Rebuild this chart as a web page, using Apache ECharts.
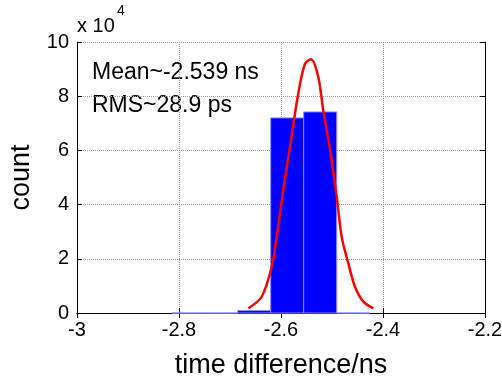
<!DOCTYPE html>
<html>
<head>
<meta charset="utf-8">
<script src="https://cdn.jsdelivr.net/npm/echarts@6/dist/echarts.min.js"></script>
<style>
  html, body { margin: 0; padding: 0; background: #fff; }
  #main { width: 502px; height: 379px; }
</style>
</head>
<body>
<div id="main"></div>
<script>
// histogram bins (left edge, right edge) and counts
var binLeft  = [-2.8143, -2.7496, -2.6849, -2.6202, -2.5555, -2.4908];
var binRight = [-2.7496, -2.6849, -2.6202, -2.5555, -2.4908, -2.4261];
var counts   = [0, 0, 900, 72000, 74200, 0];

// fitted gaussian
var fitX = [-2.6641, -2.6378, -2.6182, -2.6084, -2.5955, -2.5824, -2.5661, -2.5529, -2.5412,
            -2.5269, -2.5171, -2.5039, -2.4908, -2.4810, -2.4680, -2.4549, -2.4386, -2.4190];
var fitY = [1730, 6000, 17100, 28100, 45300, 61300, 81000, 92000, 93600,
            87100, 74700, 60400, 42900, 28100, 18300, 9700, 4200, 1730];

var xTicks = [-3, -2.8, -2.6, -2.4, -2.2];
var yTicks = [0, 2, 4, 6, 8, 10];

var FONT = 'Liberation Sans, Arial, sans-serif';

var hist = binLeft.map(function (l, i) { return [l, binRight[i], counts[i]]; });
var fit = fitX.map(function (x, i) { return [x, fitY[i]]; });

var chart = echarts.init(document.getElementById('main'));

var gridLine = { show: true, lineStyle: { color: '#9a9a9a', type: 'dotted', width: 1 } };

var option = {
    animation: false,
    backgroundColor: '#fff',
    grid: { left: 77, right: 17, top: 42, bottom: 66, outerBoundsMode: 'none', containLabel: false },
    xAxis: [
        {
            type: 'value',
            min: xTicks[0],
            max: xTicks[xTicks.length - 1],
            interval: 0.2,
            name: 'time difference/ns',
            nameLocation: 'middle',
            nameGap: 39,
            nameTextStyle: { color: '#000', fontSize: 27, fontFamily: FONT },
            axisLine: { lineStyle: { color: '#000', width: 1 } },
            axisTick: { inside: true, length: 5, lineStyle: { color: '#000' } },
            axisLabel: {
                color: '#000', fontSize: 20, fontFamily: FONT, margin: 7,
                formatter: function (v) { return String(Math.round(v * 10) / 10); }
            },
            splitLine: gridLine
        },
        {
            type: 'value',
            position: 'top',
            min: xTicks[0],
            max: xTicks[xTicks.length - 1],
            interval: 0.2,
            axisLine: { show: true, lineStyle: { color: '#000', width: 1 } },
            axisTick: { inside: true, length: 5, lineStyle: { color: '#000' } },
            axisLabel: { show: false },
            splitLine: { show: false }
        }
    ],
    yAxis: [
        {
            type: 'value',
            min: 0,
            max: 100000,
            interval: 20000,
            name: 'count',
            nameLocation: 'middle',
            nameGap: 42,
            nameTextStyle: { color: '#000', fontSize: 27, fontFamily: FONT },
            axisLine: { show: true, lineStyle: { color: '#000', width: 1 } },
            axisTick: { show: true, inside: true, length: 5, lineStyle: { color: '#000' } },
            axisLabel: {
                color: '#000', fontSize: 20, fontFamily: FONT, margin: 8,
                formatter: function (v) { return String(v / 10000); }
            },
            splitLine: gridLine
        },
        {
            type: 'value',
            position: 'right',
            min: 0,
            max: 100000,
            interval: 20000,
            axisLine: { show: true, lineStyle: { color: '#000', width: 1 } },
            axisTick: { show: true, inside: true, length: 5, lineStyle: { color: '#000' } },
            axisLabel: { show: false },
            splitLine: { show: false }
        }
    ],
    graphic: [
        { type: 'text', left: 77, top: 16, style: { text: 'x 10', font: '20px ' + FONT, fill: '#000' } },
        { type: 'text', left: 117, top: 4, style: { text: '4', font: '14px ' + FONT, fill: '#000' } },
        { type: 'text', left: 92, top: 61, style: { text: 'Mean~-2.539 ns', font: '23px ' + FONT, fill: '#000' } },
        { type: 'text', left: 92, top: 94, style: { text: 'RMS~28.9 ps', font: '23px ' + FONT, fill: '#000' } }
    ],
    series: [
        {
            type: 'custom',
            xAxisIndex: 0,
            yAxisIndex: 0,
            data: hist,
            encode: { x: [0, 1], y: 2 },
            renderItem: function (params, api) {
                var p0 = api.coord([api.value(0), api.value(2)]);
                var p1 = api.coord([api.value(1), 0]);
                return {
                    type: 'rect',
                    shape: { x: p0[0], y: p0[1], width: p1[0] - p0[0], height: p1[1] - p0[1] },
                    style: { fill: '#0000ff', stroke: '#8c8cff', lineWidth: 1 }
                };
            },
            z: 2
        },
        {
            type: 'line',
            xAxisIndex: 0,
            yAxisIndex: 0,
            data: fit,
            smooth: 0.3,
            symbol: 'none',
            lineStyle: { color: '#ff0000', width: 2.5 },
            z: 3
        }
    ]
};

chart.setOption(option);
</script>
</body>
</html>
